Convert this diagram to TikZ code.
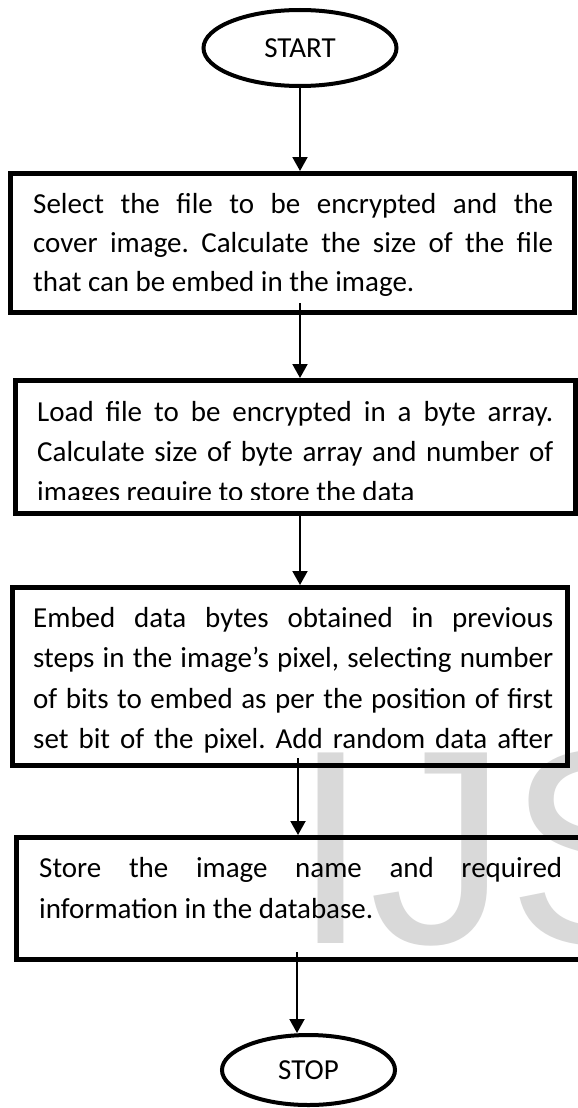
\documentclass[tikz,border=0pt]{standalone}
\usepackage{fontspec}
\setmainfont{Carlito}
\newfontfamily\wmfont{Liberation Sans}
\usetikzlibrary{shapes.geometric,arrows.meta}
\frenchspacing
\begin{document}
\begin{tikzpicture}[x=1pt,y=-1pt,
  font=\fontsize{29}{40}\selectfont,
  boxstyle/.style={draw=black,line width=5pt,rectangle,inner sep=0pt},
  termstyle/.style={draw=black,ellipse,line width=4pt,inner sep=0pt},
  linestyle/.style={anchor=base west,inner sep=0pt},
  arr/.style={line width=2pt,-{Triangle[length=14pt,width=15pt]}},
  wmstyle/.style={anchor=base west,inner sep=0pt,text=black!15,font=\wmfont\fontsize{277}{277}\selectfont}
]
\clip (0,0) rectangle (578,1108);
\fill[white] (0,0) rectangle (578,1108);

% watermark
\node[wmstyle] (wm) at (292,943) {IJS};

% terminals
\node[termstyle,minimum width=193pt,minimum height=76pt] (start) at (300,48) {START};
\node[termstyle,minimum width=173pt,minimum height=70pt] (stop) at (308.5,1070) {STOP};

% boxes
\node[boxstyle,minimum width=563.5pt,minimum height=139pt] (b1) at (292.25,243) {};
\node[boxstyle,minimum width=560pt,minimum height=132.5pt] (b2) at (295.5,446.75) {};
\node[boxstyle,minimum width=555.5pt,minimum height=177.5pt] (b3) at (289.75,676.25) {};
\node[boxstyle,minimum width=574pt,minimum height=121.5pt] (b4) at (303,898.25) {};

% box 1 text
\node[linestyle] (l11) at (33,213) {\makebox[520pt][s]{Select the file to be encrypted and the}};
\node[linestyle] (l12) at (33,252) {\makebox[520pt][s]{cover image. Calculate the size of the file}};
\node[linestyle] (l13) at (33,291) {that can be embed in the image.};

% box 2 text
\node[linestyle] (l21) at (37,421) {\makebox[516pt][s]{Load file to be encrypted in a byte array.}};
\node[linestyle] (l22) at (37,461) {\makebox[516pt][s]{Calculate size of byte array and number of}};
\begin{scope}
\clip (0,470) rectangle (578,499);
\node[linestyle] (l23) at (37,501) {images require to store the data};
\end{scope}

% box 3 text
\node[linestyle] (l31) at (33,627) {\makebox[520pt][s]{Embed data bytes obtained in previous}};
\node[linestyle] (l32) at (33,667) {\makebox[520pt][s]{steps in the image’s pixel, selecting number}};
\node[linestyle] (l33) at (33,708) {\makebox[520pt][s]{of bits to embed as per the position of first}};
\node[linestyle] (l34) at (33,748) {\makebox[520pt][s]{set bit of the pixel. Add random data after}};

% box 4 text
\node[linestyle] (l41) at (39,877) {\makebox[523pt][s]{Store the image name and required}};
\node[linestyle] (l42) at (39,918) {information in the database.};

% connectors
\coordinate (c2) at (300,303);
\coordinate (c3) at (300,511);
\coordinate (c4) at (298,758);
\coordinate (c5) at (297,952);
\draw[arr] (start.south) -- (start.south |- b1.north);
\draw[arr] (c2) -- (c2 |- b2.north);
\draw[arr] (c3) -- (c3 |- b3.north);
\draw[arr] (c4) -- (c4 |- b4.north);
\draw[arr] (c5) -- (c5 |- stop.north);
\end{tikzpicture}
\end{document}
